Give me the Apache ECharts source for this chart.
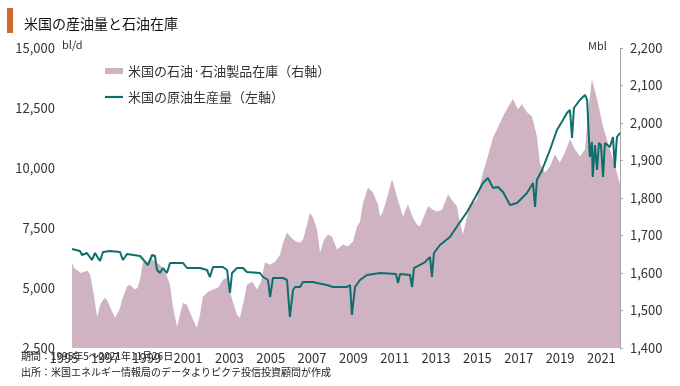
<!DOCTYPE html>
<html><head><meta charset="utf-8">
<script src="https://cdn.jsdelivr.net/npm/echarts@6/dist/echarts.min.js"></script>
<style>html,body{margin:0;padding:0;background:#fff}#c{width:680px;height:386px}</style>
</head><body><div id="c"></div>
<script>
// Inventory (right axis, Mbl) – decimal year / value
const invYears = [1995.39,1995.50,1995.63,1995.80,1996.02,1996.15,1996.26,1996.45,1996.60,1996.75,1996.89,1997.00,1997.13,1997.30,1997.47,1997.56,1997.70,1997.81,1998.05,1998.19,1998.43,1998.55,1998.68,1998.82,1999.00,1999.16,1999.40,1999.64,1999.89,2000.13,2000.27,2000.47,2000.61,2000.76,2000.95,2001.10,2001.29,2001.43,2001.58,2001.72,2001.97,2002.21,2002.45,2002.69,2002.89,2003.03,2003.22,2003.37,2003.51,2003.71,2003.85,2004.10,2004.34,2004.53,2004.72,2004.97,2005.21,2005.45,2005.60,2005.79,2005.98,2006.22,2006.42,2006.56,2006.76,2006.90,2007.05,2007.24,2007.39,2007.58,2007.77,2007.97,2008.21,2008.50,2008.74,2008.98,2009.18,2009.32,2009.47,2009.71,2009.95,2010.19,2010.29,2010.43,2010.68,2010.87,2011.11,2011.40,2011.64,2011.88,2012.08,2012.22,2012.61,2012.85,2013.05,2013.29,2013.58,2013.82,2014.01,2014.16,2014.30,2014.50,2014.64,2014.98,2015.27,2015.46,2015.76,2016.00,2016.24,2016.48,2016.72,2016.96,2017.16,2017.40,2017.64,2017.88,2018.03,2018.27,2018.51,2018.75,2018.99,2019.24,2019.48,2019.72,2019.96,2020.21,2020.35,2020.54,2020.79,2021.08,2021.41,2021.75,2021.90];
const invValues = [1628,1612,1609,1600,1604,1606,1596,1540,1483,1515,1529,1535,1523,1500,1481,1483,1505,1529,1564,1569,1556,1560,1582,1630,1625,1641,1630,1622,1604,1569,1510,1457,1489,1521,1515,1494,1470,1454,1489,1537,1550,1556,1561,1582,1588,1548,1515,1489,1481,1529,1569,1577,1556,1577,1628,1622,1630,1649,1681,1708,1695,1684,1681,1689,1729,1761,1748,1716,1654,1689,1703,1697,1663,1676,1671,1684,1724,1737,1788,1828,1815,1783,1751,1764,1810,1850,1804,1751,1783,1748,1729,1724,1778,1769,1764,1769,1810,1791,1778,1735,1703,1751,1778,1796,1868,1903,1962,1989,2018,2042,2064,2037,2050,2029,2018,1965,1890,1868,1884,1917,1895,1922,1957,1930,1911,1930,2029,2117,2064,1991,1930,1868,1836];

// Crude production (left axis, bl/d)
const prodYears = [1995.39,1995.77,1995.87,1996.11,1996.35,1996.50,1996.74,1996.89,1997.23,1997.71,1997.85,1998.05,1998.68,1999.06,1999.26,1999.40,1999.50,1999.64,1999.79,1999.98,2000.13,2000.76,2000.95,2001.58,2001.92,2002.06,2002.21,2002.69,2002.89,2003.03,2003.13,2003.37,2003.66,2003.85,2004.48,2004.63,2004.87,2004.97,2005.11,2005.60,2005.79,2005.93,2006.08,2006.18,2006.42,2006.56,2007.05,2007.24,2007.72,2008.01,2008.69,2008.84,2008.93,2009.08,2009.32,2009.66,2010.29,2011.06,2011.16,2011.26,2011.74,2011.84,2011.93,2012.47,2012.71,2012.80,2012.90,2013.19,2013.67,2014.06,2014.50,2014.88,2015.27,2015.51,2015.76,2016.00,2016.24,2016.58,2016.92,2017.16,2017.40,2017.69,2017.79,2017.88,2018.13,2018.51,2018.85,2019.14,2019.33,2019.48,2019.58,2019.67,2019.96,2020.21,2020.31,2020.44,2020.54,2020.58,2020.69,2020.79,2020.88,2020.98,2021.08,2021.17,2021.41,2021.56,2021.65,2021.75,2021.90];
const prodValues = [6625,6542,6375,6458,6167,6458,6125,6500,6542,6500,6167,6417,6333,5958,6375,6333,5750,5625,5833,5625,6042,6042,5833,5833,5750,5458,5875,5875,5750,4792,5625,5833,5833,5667,5625,5458,5333,4625,5417,5417,5333,3792,4917,5042,5042,5250,5250,5208,5125,5042,5042,5125,3875,5042,5333,5542,5625,5583,5208,5583,5542,5042,5833,6083,6292,5458,6458,6792,7125,7625,8167,8750,9375,9583,9167,9208,9000,8458,8542,8750,8958,9375,8375,9500,9917,10750,11583,12000,12292,12417,11250,12500,12833,13042,12833,10458,11083,9625,10958,9917,11042,10958,9625,11042,10875,11292,10000,11292,11458];

const leftTicks = [2500,5000,7500,10000,12500,15000];
const rightTicks = [1400,1500,1600,1700,1800,1900,2000,2100,2200];
const yearTicks = [1995,1997,1999,2001,2003,2005,2007,2009,2011,2013,2015,2017,2019,2021];

const nameInv = '米国の石油·石油製品在庫（右軸）';
const nameProd = '米国の原油生産量（左軸）';
const FONT = "'Noto Sans CJK JP', 'Noto Sans', sans-serif";
const AREA = '#cfb3c3';
const LINE = '#0e6e6c';

const zip = (a, b) => a.map((x, i) => [x, b[i]]);
const fmt = v => v.toLocaleString('en-US');

const chart = echarts.init(document.getElementById('c'), null, {renderer: 'canvas'});
chart.setOption({
  animation: false,
  textStyle: {fontFamily: FONT},
  title: {text: '米国の産油量と石油在庫', left: 19, top: 12,
    textStyle: {fontSize: 14, fontWeight: 'normal', color: '#111', fontFamily: FONT}},
  legend: {orient: 'vertical', left: 100, top: 59, itemWidth: 18, itemHeight: 6, itemGap: 12,
    textStyle: {fontSize: 13, color: '#333', lineHeight: 14, fontFamily: FONT},
    data: [{name: nameInv, icon: 'rect'}, {name: nameProd, icon: 'path://M0,0H18V2.2H0Z'}]},
  grid: {left: 64, right: 60, top: 48, bottom: 38},
  xAxis: {type: 'value', min: yearTicks[0], max: 2021.9, interval: 2,
    axisLine: {show: false}, axisTick: {show: false}, splitLine: {show: false},
    axisLabel: {margin: 4, fontSize: 13, color: '#333', fontFamily: FONT,
      formatter: v => yearTicks.includes(Math.round(v)) && Math.abs(v - Math.round(v)) < 1e-6 ? String(Math.round(v)) : ''}},
  yAxis: [
    {type: 'value', min: leftTicks[0], max: leftTicks[leftTicks.length-1], interval: 2500,
      axisLine: {show: false}, axisTick: {show: false}, splitLine: {show: false},
      axisLabel: {margin: 9, fontSize: 13, color: '#333', fontFamily: FONT, formatter: fmt}},
    {type: 'value', position: 'right', min: rightTicks[0], max: rightTicks[rightTicks.length-1], interval: 100,
      axisLine: {show: true, lineStyle: {color: '#a6a6a6', width: 1}},
      axisTick: {show: true, length: 3, inside: false, lineStyle: {color: '#a6a6a6'}},
      splitLine: {show: false},
      axisLabel: {margin: 10, fontSize: 13, color: '#333', fontFamily: FONT, formatter: fmt}}
  ],
  graphic: [
    {type: 'rect', shape: {x: 7, y: 8, width: 6, height: 25}, style: {fill: '#d0692b'}},
    {type: 'text', left: 62, top: 39, style: {text: 'bl/d', fontSize: 11, fill: '#333', fontFamily: FONT}},
    {type: 'text', left: 588, top: 40, style: {text: 'Mbl', fontSize: 11, fill: '#333', fontFamily: FONT}},
    {type: 'text', left: 21, top: 351, style: {text: '期間：1995年5～2021年11月26日', fontSize: 10, fill: '#222', fontFamily: FONT}},
    {type: 'text', left: 21, top: 367, style: {text: '出所：米国エネルギー情報局のデータよりピクテ投信投資顧問が作成', fontSize: 10, fill: '#222', fontFamily: FONT}}
  ],
  series: [
    {name: nameInv, type: 'line', yAxisIndex: 1, data: zip(invYears, invValues),
      symbol: 'none', lineStyle: {width: 0}, itemStyle: {color: AREA},
      areaStyle: {color: AREA, opacity: 1, origin: 'start'}, z: 1},
    {name: nameProd, type: 'line', yAxisIndex: 0, data: zip(prodYears, prodValues),
      symbol: 'none', lineStyle: {width: 2, color: LINE}, itemStyle: {color: LINE}, z: 2}
  ]
});
</script></body></html>
